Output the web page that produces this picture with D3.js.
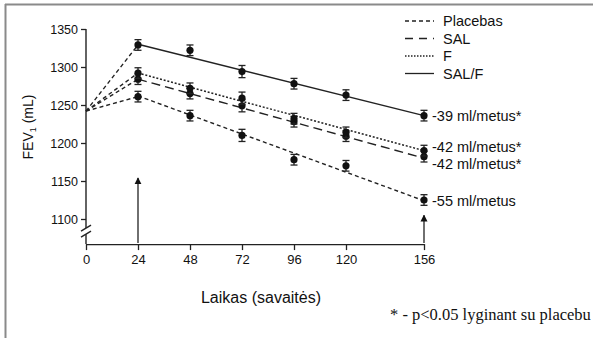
<!DOCTYPE html>
<html>
<head>
<meta charset="utf-8">
<script src="https://cdn.jsdelivr.net/npm/d3@7/dist/d3.min.js"></script>
<style>
  body { margin: 0; background: #fff; }
  text { font-family: "Liberation Sans", Arial, Helvetica, sans-serif; fill: #111; }
</style>
</head>
<body>
<div id="chart"></div>
<script>
// data
var weeks = [24, 48, 72, 96, 120, 156];
var startWeek = 0, startValue = 1242;
var seriesNames = ["Placebas", "SAL", "F", "SAL/F"];
var placebo = [1261, 1236, 1210, 1178, 1170, 1125];
var sal     = [1284, 1265, 1249, 1228, 1209, 1182];
var flut    = [1292, 1272, 1259, 1232, 1214, 1190];
var salf    = [1329, 1322, 1294, 1278, 1263, 1236];
var errors  = [7, 7, 8, 7, 7, 7];
// fitted slope lines (week 24 -> week 156)
var fitStart = [1262, 1284, 1292, 1330];
var fitEnd   = [1124, 1180, 1190, 1236];
var slopeLabels = ["-55 ml/metus", "-42 ml/metus*", "-42 ml/metus*", "-39 ml/metus*"];
var labelValues = [1124, 1172, 1195, 1236];
var xTicks = [0, 24, 48, 72, 96, 120, 156];
var yTicks = [1100, 1150, 1200, 1250, 1300, 1350];
var arrowWeeks = [24, 156];
var arrowTops = [1154, 1105];
var footnote = "* - p<0.05 lyginant su placebu";

var width = 593, height = 338;
var yBase = 1067; // value where x axis sits (below the break)

var svg = d3.select("#chart").append("svg")
    .attr("width", width)
    .attr("height", height);

// frame lines (top and left)
svg.append("line").attr("x1", 5).attr("y1", 4.5).attr("x2", width).attr("y2", 4.5)
    .attr("stroke", "#8a8a8a").attr("stroke-width", 2);
svg.append("line").attr("x1", 5.5).attr("y1", 4).attr("x2", 5.5).attr("y2", height)
    .attr("stroke", "#8a8a8a").attr("stroke-width", 2);

var x = d3.scaleLinear().domain([0, 156]).range([86, 424]);
var y = d3.scaleLinear().domain([1100, 1350]).range([219, 29]);

var styles = [
    {dash: "4,3", width: 1.4},
    {dash: "9,5", width: 1.4},
    {dash: "2,1.8", width: 1.5},
    {dash: null, width: 1.4}
];
var allSeries = [placebo, sal, flut, salf];

// y axis
var yAxis = svg.append("g")
    .attr("transform", "translate(" + x(0) + ",0)")
    .call(d3.axisLeft(y).tickValues(yTicks).tickFormat(d3.format("d")).tickSize(5).tickPadding(3));
yAxis.select(".domain").remove();
yAxis.selectAll("line").attr("stroke", "#222").attr("stroke-width", 1.3);
yAxis.selectAll("text").style("font-size", "12.5px").attr("fill", "#111");

var axisG = svg.append("g").attr("stroke", "#222").attr("stroke-width", 1.4).attr("fill", "none");
axisG.append("line").attr("x1", x(0)).attr("x2", x(0)).attr("y1", y(1350)).attr("y2", y(1088));
axisG.append("line").attr("x1", x(0)).attr("x2", x(0)).attr("y1", y(1080)).attr("y2", y(yBase));
// break marks
[1088, 1080].forEach(function (v) {
    axisG.append("line")
        .attr("x1", x(0) - 5).attr("y1", y(v) + 3)
        .attr("x2", x(0) + 5).attr("y2", y(v) - 3);
});

// x axis
var xAxis = svg.append("g")
    .attr("transform", "translate(0," + y(yBase) + ")")
    .call(d3.axisBottom(x).tickValues(xTicks).tickSize(6).tickPadding(5).tickSizeOuter(0));
xAxis.select(".domain").attr("stroke", "#222").attr("stroke-width", 1.4);
xAxis.selectAll("line").attr("stroke", "#222").attr("stroke-width", 1.3);
xAxis.selectAll("text").style("font-size", "13px").attr("fill", "#111");

// axis titles
var yt = svg.append("text")
    .attr("transform", "translate(33,127) rotate(-90)")
    .attr("text-anchor", "middle")
    .style("font-size", "14px");
yt.append("tspan").text("FEV");
yt.append("tspan").attr("dy", 3).style("font-size", "9px").text("1");
yt.append("tspan").attr("dy", -3).text(" (mL)");

svg.append("text")
    .attr("x", 261).attr("y", 303)
    .attr("text-anchor", "middle")
    .style("font-size", "16px")
    .text("Laikas (savaitės)");

// arrows
var defs = svg.append("defs");
defs.append("marker")
    .attr("id", "arrow")
    .attr("viewBox", "0 0 10 10")
    .attr("refX", 9).attr("refY", 5)
    .attr("markerWidth", 7).attr("markerHeight", 11)
    .attr("markerUnits", "userSpaceOnUse")
    .attr("orient", "auto")
    .append("path").attr("d", "M0,0L10,5L0,10Z").attr("fill", "#111");

arrowWeeks.forEach(function (w, i) {
    svg.append("line")
        .attr("x1", x(w)).attr("x2", x(w))
        .attr("y1", y(yBase) - 1).attr("y2", y(arrowTops[i]))
        .attr("stroke", "#222").attr("stroke-width", 1.3)
        .attr("marker-end", "url(#arrow)");
});

// lines
allSeries.forEach(function (s, i) {
    var st = styles[i];
    // start segment 0 -> 24 (short dash for all)
    svg.append("line")
        .attr("x1", x(startWeek)).attr("y1", y(startValue))
        .attr("x2", x(weeks[0])).attr("y2", y(s[0]))
        .attr("stroke", "#222").attr("stroke-width", 1.4)
        .attr("stroke-dasharray", "4,3");
    // fitted slope
    svg.append("line")
        .attr("x1", x(weeks[0])).attr("y1", y(fitStart[i]))
        .attr("x2", x(weeks[weeks.length - 1])).attr("y2", y(fitEnd[i]))
        .attr("stroke", "#222").attr("stroke-width", st.width)
        .attr("stroke-dasharray", st.dash);
});

// error bars and points
allSeries.forEach(function (s) {
    var g = svg.append("g");
    s.forEach(function (v, j) {
        var cx = x(weeks[j]);
        var e = errors[j];
        g.append("line").attr("x1", cx).attr("x2", cx).attr("y1", y(v - e)).attr("y2", y(v + e))
            .attr("stroke", "#222").attr("stroke-width", 1.3);
        [v - e, v + e].forEach(function (c) {
            g.append("line").attr("x1", cx - 3.5).attr("x2", cx + 3.5).attr("y1", y(c)).attr("y2", y(c))
                .attr("stroke", "#222").attr("stroke-width", 1.3);
        });
        g.append("circle").attr("cx", cx).attr("cy", y(v)).attr("r", 3.6).attr("fill", "#111");
    });
});

// slope labels
slopeLabels.forEach(function (t, i) {
    svg.append("text")
        .attr("x", x(156) + 8)
        .attr("y", y(labelValues[i]))
        .attr("dy", "0.35em")
        .style("font-size", "14.5px")
        .text(t);
});

// legend
var leg = svg.append("g");
seriesNames.forEach(function (n, i) {
    var ly = 21 + i * 17.5;
    leg.append("line")
        .attr("x1", 405).attr("x2", 434).attr("y1", ly).attr("y2", ly)
        .attr("stroke", "#222").attr("stroke-width", i === 2 ? 1.3 : 1.3)
        .attr("stroke-dasharray", i === 0 ? "4,3" : i === 1 ? "8,6" : i === 2 ? "1.5,1.5" : null);
    leg.append("text")
        .attr("x", 443).attr("y", ly).attr("dy", "0.35em")
        .style("font-size", "14.5px")
        .text(n);
});

// footnote
svg.append("text")
    .attr("x", 390).attr("y", 320)
    .style("font-family", "'Liberation Serif', 'Times New Roman', serif")
    .style("font-size", "16.5px")
    .text(footnote);
</script>
</body>
</html>
